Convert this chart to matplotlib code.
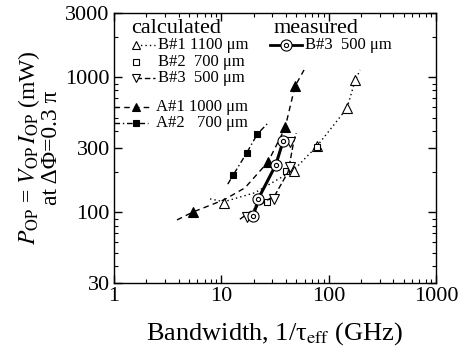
import numpy as np
import matplotlib.pyplot as plt

plt.rcParams['font.family'] = ['Liberation Serif', 'DejaVu Serif']
plt.rcParams['mathtext.fontset'] = 'stix'

# ---- 读图数据 (GHz, mW) ----
# calculated B#1 1100 um
b1_x = [10.6, 47.9, 78, 148, 176]
b1_y = [118, 204, 310, 589, 949]
b1_line_x = [7.85, 10.6, 20.6, 47.0, 78, 148, 176, 196]
b1_line_y = [126, 120, 140, 205, 310, 590, 940, 1135]

# calculated B#2 700 um
b2_x = [26.5, 40.1, 78]
b2_y = [119, 201, 303]

# calculated B#3 500 um
b3_x = [17.3, 31.2, 43.7, 43.7]
b3_y = [93, 126, 218, 334]
b3_line_x = [14.9, 21.6, 31.6, 41.9, 47.6, 49.9]
b3_line_y = [89, 110, 134, 199, 344, 387]

# calculated A#1 1000 um
a1_x = [5.45, 27.2, 39.2, 48.6]
a1_y = [100.7, 236, 426, 871]
a1_line_x = [3.87, 5.45, 10.6, 16.6, 27.2, 39.2, 48.6, 59]
a1_line_y = [88, 100.7, 124, 152, 236, 420, 860, 1135]

# calculated A#2 700 um
a2_x = [12.9, 17.3, 21.7]
a2_y = [189, 277, 381]
a2_line_x = [11.5, 12.9, 17.3, 21.7, 26.7]
a2_line_y = [162, 189, 277, 381, 452]

# measured B#3 500 um
m3_x = [19.9, 22.1, 32.1, 37.8]
m3_y = [94, 126, 224, 340]

# 样式
LS_B1 = (0, (1, 2.2))
LS_B3 = (0, (4, 2))
LS_A1 = (0, (4, 3))
LS_A2 = (0, (4, 2, 1, 2))
mk = dict(markeredgecolor='black', markeredgewidth=0.8)

fig = plt.figure(figsize=(4.65, 3.56), dpi=100)
ax = fig.add_axes([0.245, 0.205, 0.6926, 0.7585])

ax.plot(b1_line_x, b1_line_y, color='black', lw=1.0, ls=LS_B1)
ax.plot(b1_x, b1_y, ls='none', marker='^', ms=6.5, mfc='white', **mk)

ax.plot(b2_x, b2_y, ls='none', marker='s', ms=5, mfc='white', **mk)

ax.plot(b3_line_x, b3_line_y, color='black', lw=1.0, ls=LS_B3)
ax.plot(b3_x, b3_y, ls='none', marker='v', ms=6.5, mfc='white', **mk)

ax.plot(a1_line_x, a1_line_y, color='black', lw=1.0, ls=LS_A1)
ax.plot(a1_x, a1_y, ls='none', marker='^', ms=6.5, mfc='black', **mk)

ax.plot(a2_line_x, a2_line_y, color='black', lw=1.0, ls=LS_A2)
ax.plot(a2_x, a2_y, ls='none', marker='s', ms=4.5, mfc='black', **mk)

ax.plot(m3_x, m3_y, color='black', lw=2.2, marker='o', ms=8, mfc='white', **mk)
ax.plot(m3_x, m3_y, ls='none', marker='o', ms=3, mfc='white', **mk)

ax.set_xscale('log')
ax.set_yscale('log')
ax.set_xlim(1, 1000)
ax.set_ylim(30, 3000)
ax.set_xticks([1, 10, 100, 1000])
ax.set_xticklabels(['1', '10', '100', '1000'])
ax.set_yticks([30, 100, 300, 1000, 3000])
ax.set_yticklabels(['30', '100', '300', '1000', '3000'])
ax.tick_params(which='both', direction='in', top=True, right=True, labelsize=16, pad=3)
ax.tick_params(which='major', length=6, width=1)
ax.tick_params(which='minor', length=3, width=0.8)
for s in ax.spines.values():
    s.set_linewidth(1.0)

ax.set_xlabel('Bandwidth, 1/τ$_{\\rm eff}$ (GHz)', fontsize=19, labelpad=10)
ax.set_ylabel(r'$P_{\rm OP}$ = $V_{\rm OP}\,I_{\rm OP}$ (mW)' + '\n' + 'at ΔΦ=0.3 π',
              fontsize=17, linespacing=0.95, labelpad=2)

# ---- 手工图例 (axes 坐标) ----
T = ax.transAxes
ax.text(0.053, 0.944, 'calculated', transform=T, fontsize=16, ha='left', va='center')
ax.text(0.627, 0.944, 'measured', transform=T, fontsize=16, ha='center', va='center')

leg_rows = [
    # (y, 线段x, 线型, 标记x, 标记, 填充, 尺寸, 文字x, 文字)
    (0.881, (0.068, 0.127), LS_B1, 0.068, '^', 'white', 6, 0.137, 'B#1 1100 μm'),
    (0.819, None, None, 0.068, 's', 'white', 5, 0.137, 'B#2  700 μm'),
    (0.759, (0.068, 0.127), LS_B3, 0.068, 'v', 'white', 6, 0.137, 'B#3  500 μm'),
    (0.652, (0.0, 0.115), LS_A1, 0.068, '^', 'black', 6, 0.130, 'A#1 1000 μm'),
    (0.593, (0.0, 0.105), LS_A2, 0.068, 's', 'black', 4.5, 0.130, 'A#2   700 μm'),
]
for y, seg, ls, mx, m, fc, ms, tx, label in leg_rows:
    if seg is not None:
        ax.plot(seg, [y, y], transform=T, color='black', lw=1.0, ls=ls, clip_on=False)
    ax.plot([mx], [y], transform=T, ls='none', marker=m, ms=ms, mfc=fc, clip_on=False, **mk)
    ax.text(tx, y, label, transform=T, fontsize=12, ha='left', va='center')

ax.plot([0.484, 0.584], [0.881, 0.881], transform=T, color='black', lw=2.0, clip_on=False)
ax.plot([0.534], [0.881], transform=T, ls='none', marker='o', ms=8, mfc='white', **mk)
ax.plot([0.534], [0.881], transform=T, ls='none', marker='o', ms=3, mfc='white', **mk)
ax.text(0.593, 0.881, 'B#3  500 μm', transform=T, fontsize=12, ha='left', va='center')

fig.savefig('out.png', dpi=100)
